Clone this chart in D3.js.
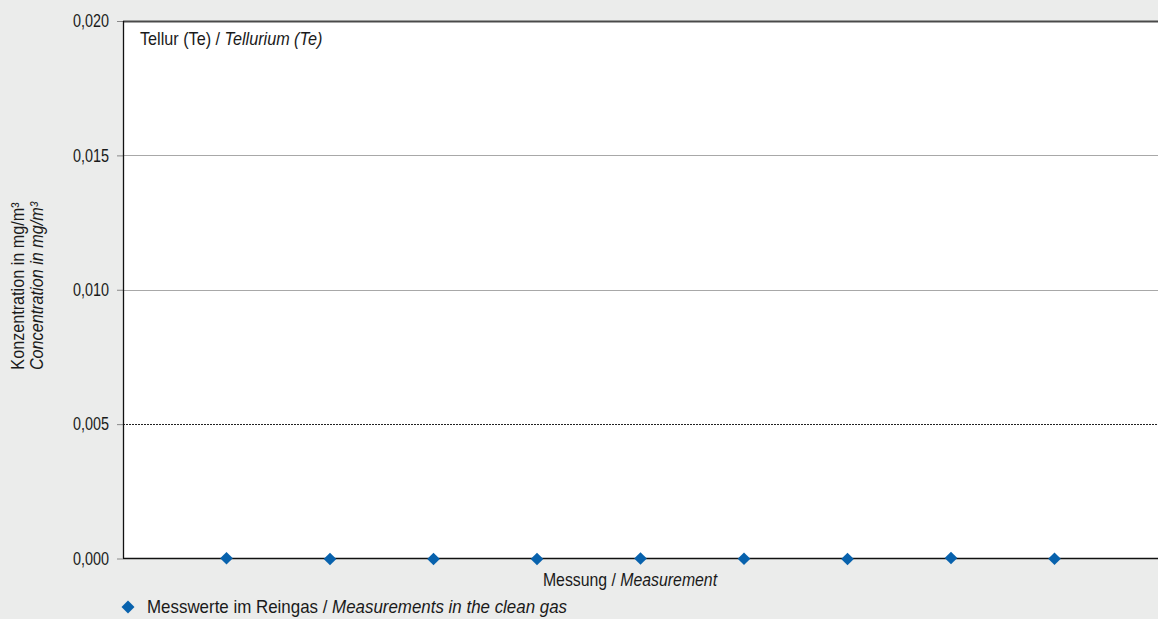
<!DOCTYPE html>
<html><head><meta charset="utf-8">
<script src="https://cdn.jsdelivr.net/npm/d3@7"></script>
<style>
html,body{margin:0;padding:0;background:#ebeceb;}
svg{display:block;font-family:"Liberation Sans","Arial",sans-serif;}
</style></head><body>
<svg id="c" width="1158" height="619"></svg>
<script>
const measurements = [1,2,3,4,5,6,7,8,9];
const values = [0.00001,-0.00002,-0.00002,-0.00002,0.00000,-0.00001,-0.00002,0.00002,-0.00001];
const yTicks = [0,0.005,0.010,0.015,0.020];
const yTickLabels = ["0,000","0,005","0,010","0,015","0,020"];
const title = ["Tellur (Te) / ","Tellurium (Te)"];
const xTitle = ["Messung / ","Measurement"];
const yTitle = ["Konzentration in mg/m³","Concentration in mg/m³"];
const legendLabel = ["Messwerte im Reingas / ","Measurements in the clean gas"];

const svg = d3.select("#c");
const L=123,R=1158,T=21,B=558.5;
const x = d3.scaleLinear().domain([0,10]).range([L,R]);
const y = d3.scaleLinear().domain([0,0.020]).range([B,T]);
const col="#0862ad";
const FS=18, SX=0.9, SXT=0.8;

svg.append("rect").attr("x",L).attr("y",T).attr("width",R-L).attr("height",B-T).attr("fill","#fff");

yTicks.forEach((t,i)=>{
  if(t===0) return;
  const yy=Math.round(y(t))+0.5;
  let stroke="#a8a8a8", dash=null, w=1;
  if(t===0.005){stroke="#222";dash="2,1";}
  if(t===0.020){stroke="#4a4a4a";w=2;}
  svg.append("line").attr("x1",L).attr("x2",R).attr("y1",yy).attr("y2",yy)
    .attr("stroke",stroke).attr("stroke-width",w).attr("stroke-dasharray",dash);
});

const ya = svg.append("g").attr("transform",`translate(${L},0)`)
  .call(d3.axisLeft(y).tickValues(yTicks).tickFormat((d,i)=>yTickLabels[i]).tickSize(6).tickPadding(8));
ya.select(".domain").remove();
ya.selectAll(".tick line").attr("stroke","#888");
ya.selectAll(".tick text").attr("font-size",FS).attr("fill","#1a1a1a").attr("font-family","inherit")
  .attr("x",-14/SXT).attr("transform",`scale(${SXT},1)`);
svg.append("line").attr("x1",L+0.5).attr("x2",L+0.5).attr("y1",T).attr("y2",B).attr("stroke","#111").attr("stroke-width",1.3);
svg.append("line").attr("x1",L).attr("x2",R).attr("y1",B).attr("y2",B).attr("stroke","#111").attr("stroke-width",1.5);

svg.append("g").selectAll("path").data(measurements).join("path")
  .attr("d", d3.symbol().type(d3.symbolSquare).size(80))
  .attr("transform",(d,i)=>`translate(${x(d)},${y(values[i])}) rotate(45)`)
  .attr("fill",col);

function label(tx,ty,rot,parts,anchor,italicAll,sx){
  const g=svg.append("g").attr("transform",`translate(${tx},${ty}) rotate(${rot}) scale(${sx||SX},1)`);
  const t=g.append("text").attr("font-size",FS).attr("fill","#1a1a1a").attr("text-anchor",anchor||"start");
  parts.forEach((p,i)=>{const s=t.append("tspan").text(p); if(i===1||italicAll) s.attr("font-style","italic");});
  return t;
}
label(140,45,0,title);
label(630,586,0,xTitle,"middle",false,0.88);
label(24,286,-90,[yTitle[0]],"middle");
label(43,286,-90,[yTitle[1]],"middle",true);

svg.append("path").attr("d", d3.symbol().type(d3.symbolSquare).size(84)).attr("transform","translate(128,607) rotate(45)").attr("fill",col);
label(147,613,0,legendLabel,"start",false,0.94);
</script>
</body></html>
